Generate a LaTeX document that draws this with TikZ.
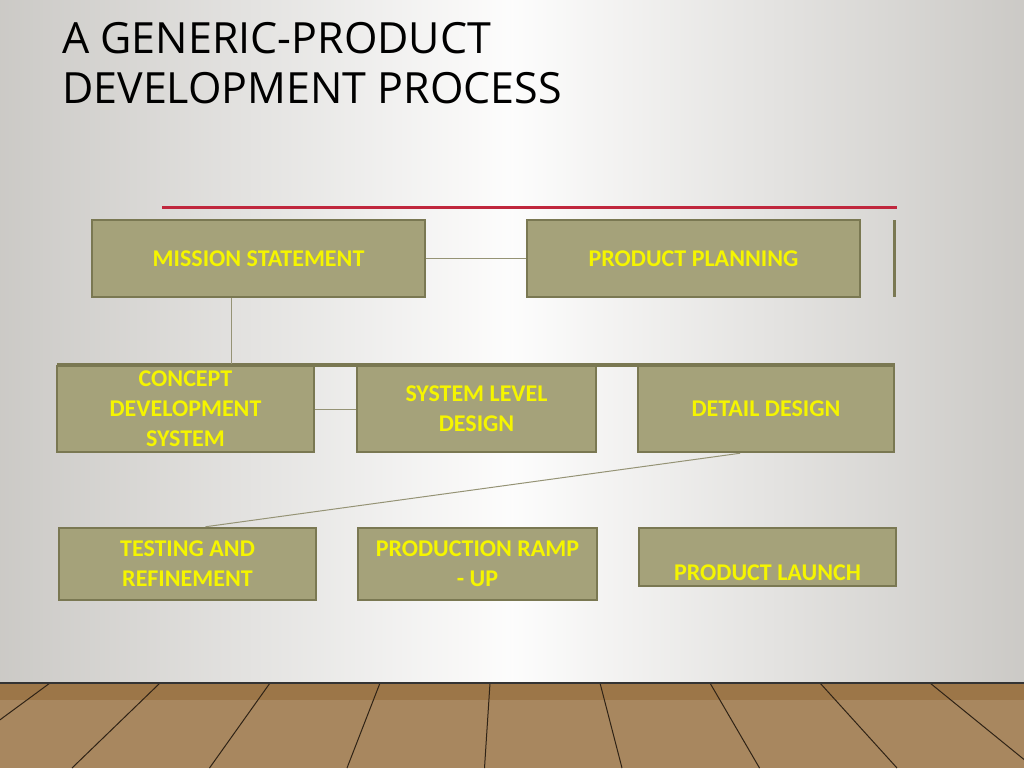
\documentclass[tikz,border=0pt]{standalone}
\usepackage{fontspec}
\setmainfont{Carlito}
\newfontfamily\titlefont{Open Sans}
\usetikzlibrary{positioning}
\definecolor{boxfill}{HTML}{A5A27A}
\definecolor{boxline}{HTML}{7A7852}
\definecolor{boxtext}{HTML}{F5F500}
\definecolor{wallgray}{HTML}{E2E0DC}
\definecolor{accentred}{HTML}{C0273D}
\definecolor{wood}{HTML}{9C7648}
\begin{document}
\begin{tikzpicture}[x=1pt, y=-1pt,
    box/.style={rectangle, draw=boxline, fill=boxfill, line width=2.5pt,
      text=boxtext, font=\bfseries\fontsize{24}{30}\selectfont, align=center},
    link/.style={draw=boxline!80, line width=1pt}]
  \useasboundingbox (0,0) rectangle (1024,768);
  % wall and floor
  \shade[left color=wallgray!90!black, right color=wallgray!90!black, middle color=white!92!wallgray]
    (0,0) rectangle (1024,683);
  \fill[wood] (0,683) rectangle (1024,768);
  \fill[wood!75!white, opacity=.5] (0,700) rectangle (1024,768);
  \begin{scope}
    \clip (0,683) rectangle (1024,768);
    \foreach \t in {-60,50,...,1100}
      \draw[black!70!wood, line width=1pt] (\t,683) -- ({512+(\t-512)*1.25},768);
  \end{scope}
  \draw[black!80, line width=2pt] (0,683) -- (1024,683);
  \node[anchor=north west, align=left, inner sep=0pt,
    font=\titlefont\fontsize{43}{50}\selectfont] (title) at (62,22)
    {A GENERIC-PRODUCT\\DEVELOPMENT PROCESS};
  \draw[accentred, line width=3pt] (162,207) -- (897,207);

  % first row
  \node[box, minimum width=333pt, minimum height=77pt] (ms) at (258.5,258.5) {MISSION STATEMENT};
  \node[box, minimum width=333pt, minimum height=77pt] (pp) at (693.5,258.5) {PRODUCT PLANNING};
  \draw[boxline, line width=3pt] (894,220) -- (894,297);
  \draw[link] (ms) -- (pp);

  % second row
  \draw[boxline, line width=4pt] (57,365) -- (895,365);
  \coordinate (drop) at (231,364);
  \draw[link] (ms.south -| drop) -- (drop);
  \node[box, minimum width=257pt, minimum height=86pt, inner ysep=0pt] (cds) at (185.5,409)
    {CONCEPT\\DEVELOPMENT\\SYSTEM};
  \node[box, minimum width=239pt, minimum height=86pt] (sld) at (476.5,409) {SYSTEM LEVEL\\DESIGN};
  \node[box, minimum width=256pt, minimum height=86pt] (dd) at (766,409) {DETAIL DESIGN};
  \draw[link] (cds) -- (sld);

  % third row
  \node[box, minimum width=257pt, minimum height=72pt] (tar) at (187.5,564) {TESTING AND\\REFINEMENT};
  \node[box, minimum width=239pt, minimum height=72pt] (pru) at (477.5,564) {PRODUCTION RAMP\\- UP};
  \node[box, minimum width=257pt, minimum height=58pt,
    label={[yshift=-16pt, text=boxtext, font=\bfseries\fontsize{24}{30}\selectfont]center:PRODUCT LAUNCH}]
    (pl) at (767.5,557) {};
  \draw[link] ([xshift=-26pt]dd.south) -- ([xshift=18pt]tar.north);
\end{tikzpicture}
\end{document}
